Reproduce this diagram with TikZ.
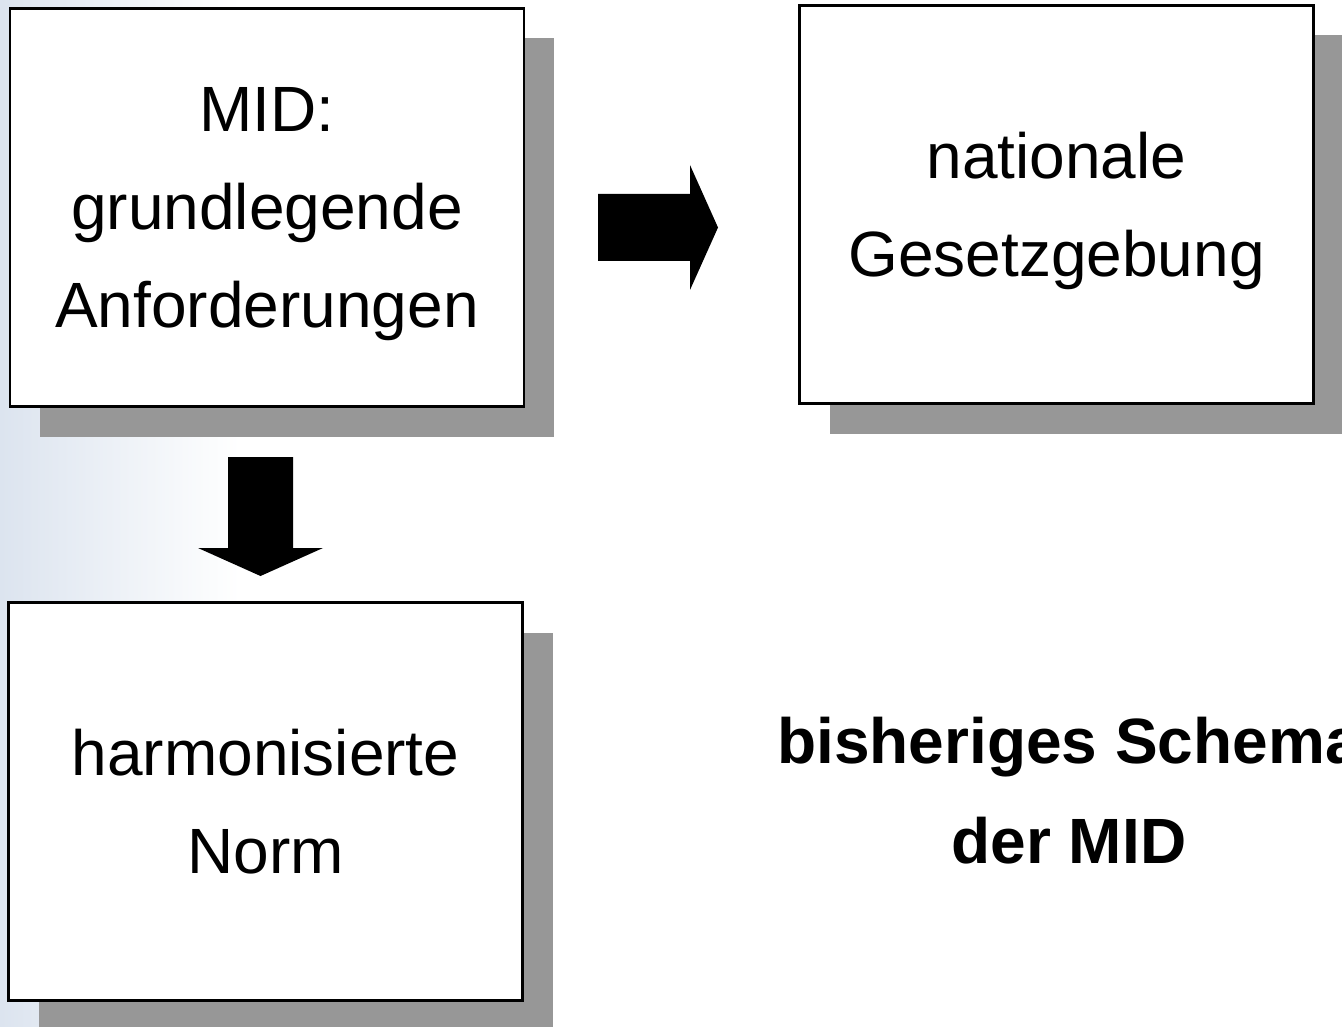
\documentclass[tikz,border=0pt]{standalone}
\usepackage{fontspec}
\setmainfont{Liberation Sans}
\usetikzlibrary{shadows}
\definecolor{shadowgray}{HTML}{979797}
\definecolor{bgblue}{HTML}{DCE4EF}

\tikzset{
 schemabox/.style={draw=black, line width=2.5pt, fill=white, inner sep=0pt,
  minimum width=514pt, minimum height=398pt, align=center, text depth=0pt,
  font=\fontsize{64}{98}\selectfont,
  drop shadow={shadow xshift=30pt, shadow yshift=-30pt, fill=shadowgray, opacity=1}},
 blockarrow/.style={fill=black}
}

\begin{document}
\begin{tikzpicture}[x=1pt,y=-1pt]
 \useasboundingbox (0,0) rectangle (1342,1027);
 \clip (0,0) rectangle (1342,1027);
 \shade[left color=bgblue, right color=white] (0,0) rectangle (240,1027);
 \node[schemabox] (mid) at (267,207.5) {MID:\\grundlegende\\Anforderungen};
 \node[schemabox] (nat) at (1056.5,204.5) {nationale\\Gesetzgebung};
 \node[schemabox] (norm) at (265.5,801.5) {harmonisierte\\Norm};
 \fill[blockarrow] (598,194) -- (690,194) -- (690,165) -- (718,227.5) -- (690,290)
  -- (690,261) -- (598,261) -- cycle;
 \fill[blockarrow] (228,457) -- (293,457) -- (293,548) -- (323,548) -- (260.5,576)
  -- (198,548) -- (228,548) -- cycle;
 \node[align=center, font=\fontsize{64}{100}\selectfont\bfseries] (caption) at (1069,791)
  {bisheriges Schema\\der MID};
\end{tikzpicture}
\end{document}
